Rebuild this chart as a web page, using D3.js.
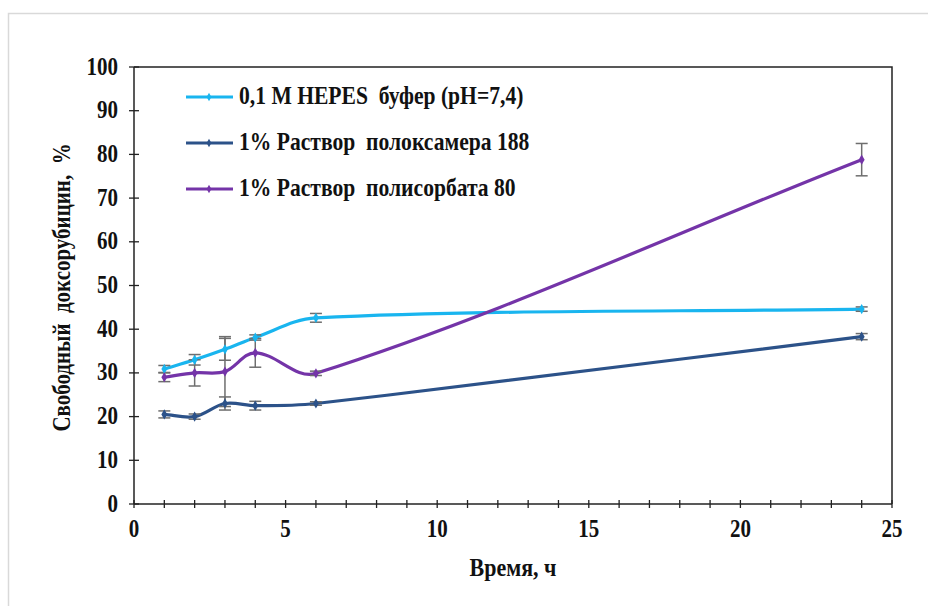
<!DOCTYPE html>
<html><head><meta charset="utf-8">
<script src="https://cdn.jsdelivr.net/npm/d3@7"></script>
<style>body{margin:0;background:#fff}svg{display:block}
text{font-family:"Liberation Serif","Times New Roman",serif;font-weight:bold;fill:#111}</style>
</head><body>
<svg id="c" width="928" height="606"></svg>
<script>
const times = [1, 2, 3, 4, 6, 24];
const hepes = [30.9, 33.0, 35.4, 38.1, 42.6, 44.6];
const hepesErr = [0.8, 1.2, 2.5, 0.6, 1.0, 0.5];
const poloxamer = [20.5, 20.0, 23.0, 22.5, 23.0, 38.3];
const poloxamerErr = [0.8, 0.6, 1.5, 1.0, 0.4, 0.7];
const polysorbate = [29.0, 30.0, 30.3, 34.6, 29.9, 78.8];
const polysorbateErr = [1.0, 3.0, 8.0, 3.3, 0.5, 3.7];
const seriesNames = ["0,1 M HEPES  буфер (pH=7,4)", "1% Раствор  полоксамера 188", "1% Раствор  полисорбата 80"];
const seriesColors = ["#19b5ef", "#2c5289", "#7434a8"];
const xTicks = [0, 5, 10, 15, 20, 25];
const yTicks = [0, 10, 20, 30, 40, 50, 60, 70, 80, 90, 100];

const series = [
  {name: seriesNames[0], color: seriesColors[0], vals: hepes, err: hepesErr},
  {name: seriesNames[1], color: seriesColors[1], vals: poloxamer, err: poloxamerErr},
  {name: seriesNames[2], color: seriesColors[2], vals: polysorbate, err: polysorbateErr}
];

// Excel-like smoothing curve: tangent direction from neighbours, control length = segment length / 3
function ExcelSmooth(context) { this._context = context; }
ExcelSmooth.prototype = {
  areaStart() { this._line = 0; }, areaEnd() { this._line = NaN; },
  lineStart() { this._pts = []; },
  point(x, y) { this._pts.push([+x, +y]); },
  lineEnd() {
    const p = this._pts, n = p.length, c = this._context;
    if (!n) return;
    c.moveTo(p[0][0], p[0][1]);
    if (n === 1) return;
    const tan = p.map((q, i) => {
      const a = p[Math.max(0, i - 1)], b = p[Math.min(n - 1, i + 1)];
      const dx = b[0] - a[0], dy = b[1] - a[1], l = Math.hypot(dx, dy) || 1;
      return [dx / l, dy / l];
    });
    for (let i = 0; i < n - 1; i++) {
      const a = p[i], b = p[i + 1];
      const L = Math.hypot(b[0] - a[0], b[1] - a[1]) / 3;
      c.bezierCurveTo(a[0] + tan[i][0] * L, a[1] + tan[i][1] * L,
                      b[0] - tan[i + 1][0] * L, b[1] - tan[i + 1][1] * L, b[0], b[1]);
    }
  }
};
const excelCurve = ctx => new ExcelSmooth(ctx);

const svg = d3.select("#c");
const VS = 1.15;
function label(g, x, y, txt, size, anchor, rot) {
  return g.append("text")
    .attr("transform", `translate(${x},${y})${rot ? " rotate(-90)" : ""} scale(1,${VS})`)
    .attr("text-anchor", anchor).attr("font-size", size)
    .attr("xml:space", "preserve").style("white-space", "pre").text(txt);
}

svg.append("rect").attr("x", 8.5).attr("y", 13.5).attr("width", 1000).attr("height", 1000)
  .attr("fill", "#fff").attr("stroke", "#d9d9d9").attr("stroke-width", 1.5);

const x = d3.scaleLinear().domain([0, 25]).range([134, 892]);
const y = d3.scaleLinear().domain([0, 100]).range([504, 67]);

svg.append("path").attr("d", `M${x(0)},${y(100)}H${x(25)}V${y(0)}`)
  .attr("fill", "none").attr("stroke", "#222").attr("stroke-width", 1.5);

const gx = svg.append("g");
gx.selectAll("line.minor").data(d3.range(0, 26)).join("line")
  .attr("x1", d => x(d)).attr("x2", d => x(d)).attr("y1", y(0) - 4).attr("y2", y(0) + 4)
  .attr("stroke", "#222").attr("stroke-width", 1.3);
gx.append("line").attr("x1", x(0)).attr("x2", x(25)).attr("y1", y(0)).attr("y2", y(0))
  .attr("stroke", "#222").attr("stroke-width", 1.5);
xTicks.forEach(d => label(gx, x(d), 537, d, 21, "middle"));

const gy = svg.append("g");
gy.selectAll("line").data(yTicks).join("line")
  .attr("x1", x(0) - 5).attr("x2", x(0) + 5).attr("y1", d => y(d)).attr("y2", d => y(d))
  .attr("stroke", "#222").attr("stroke-width", 1.3);
gy.append("line").attr("x1", x(0)).attr("x2", x(0)).attr("y1", y(0)).attr("y2", y(100))
  .attr("stroke", "#222").attr("stroke-width", 1.5);
yTicks.forEach(d => label(gy, 118, y(d) + 7.5, d, 21, "end"));

label(svg, 513, 576, "Время, ч", 22, "middle");
label(svg, 70, (y(0) + y(100)) / 2 + 2, "Свободный  доксорубицин,  %", 21, "middle", true);

const line = d3.line().x(d => x(d[0])).y(d => y(d[1])).curve(excelCurve);

series.forEach(s => {
  const pts = times.map((t, i) => [t, s.vals[i], s.err[i]]);
  svg.append("path").datum(pts).attr("d", line).attr("fill", "none")
    .attr("stroke", s.color).attr("stroke-width", 3.2).attr("stroke-linejoin", "round");
});

series.forEach(s => {
  const pts = times.map((t, i) => [t, s.vals[i], s.err[i]]);
  const g = svg.append("g").attr("stroke", "#6e6e6e").attr("stroke-width", 1.5);
  pts.forEach(p => {
    g.append("line").attr("x1", x(p[0])).attr("x2", x(p[0]))
      .attr("y1", y(p[1] - p[2])).attr("y2", y(p[1] + p[2]));
    [p[1] - p[2], p[1] + p[2]].forEach(v => {
      g.append("line").attr("x1", x(p[0]) - 6).attr("x2", x(p[0]) + 6)
        .attr("y1", y(v)).attr("y2", y(v));
    });
  });
});

series.forEach(s => {
  const pts = times.map((t, i) => [t, s.vals[i]]);
  svg.append("g").selectAll("path").data(pts).join("path")
    .attr("d", d3.symbol(d3.symbolDiamond, 30)())
    .attr("transform", d => `translate(${x(d[0])},${y(d[1])})`)
    .attr("fill", s.color);
});

series.forEach((s, i) => {
  const ly = 97 + i * 46;
  svg.append("line").attr("x1", 186).attr("x2", 233).attr("y1", ly).attr("y2", ly)
    .attr("stroke", s.color).attr("stroke-width", 3);
  svg.append("path").attr("d", d3.symbol(d3.symbolDiamond, 20)())
    .attr("transform", `translate(209,${ly})`).attr("fill", s.color);
  label(svg, 239, ly + 7, s.name, 21.6, "start");
});
</script>
</body></html>
